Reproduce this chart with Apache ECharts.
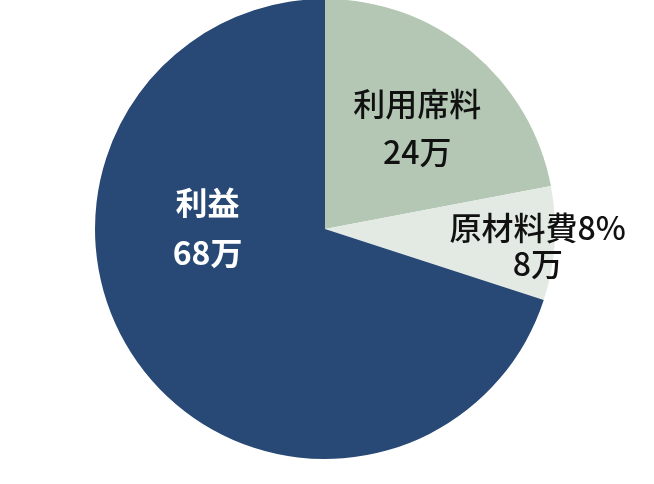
<!DOCTYPE html>
<html><head><meta charset="utf-8">
<script src="https://cdn.jsdelivr.net/npm/echarts@6/dist/echarts.min.js"></script>
<style>html,body{margin:0;padding:0;background:#fff}#c{width:654px;height:484px}</style>
</head><body><div id="c"></div>
<script>
const categories = ['利用席料', '原材料費8%', '利益'];
const values = [22, 8, 70];
const valueLabels = ['24万', '8万', '68万'];
const colors = ['#b3c7b4', '#e3eae4', '#284875'];

const chart = echarts.init(document.getElementById('c'));
const labelStyles = [
  {color: '#111', weight: 500, lh: 48, dx: 17, dy: -10},
  {color: '#111', weight: 500, lh: 36, dx: 95, dy: 9},
  {color: '#fff', weight: 'bold', lh: 50, dx: -22, dy: -71}
];
chart.setOption({
  animation: false,
  series: [{
    type: 'pie',
    center: [325, 229],
    radius: [0, 230],
    startAngle: 90,
    clockwise: true,
    data: categories.map((n, i) => ({
      name: n, value: values[i],
      itemStyle: {color: colors[i]},
      label: {
        color: labelStyles[i].color,
        fontWeight: labelStyles[i].weight,
        lineHeight: labelStyles[i].lh
      }
    })),
    label: {
      show: true,
      position: 'inner',
      fontFamily: 'Noto Sans CJK JP',
      fontSize: 32,
      formatter: p => p.name + '\n' + valueLabels[p.dataIndex]
    },
    labelLine: {show: false},
    labelLayout: p => ({dx: labelStyles[p.dataIndex].dx, dy: labelStyles[p.dataIndex].dy}),
    emphasis: {disabled: true}
  }]
});
</script></body></html>
